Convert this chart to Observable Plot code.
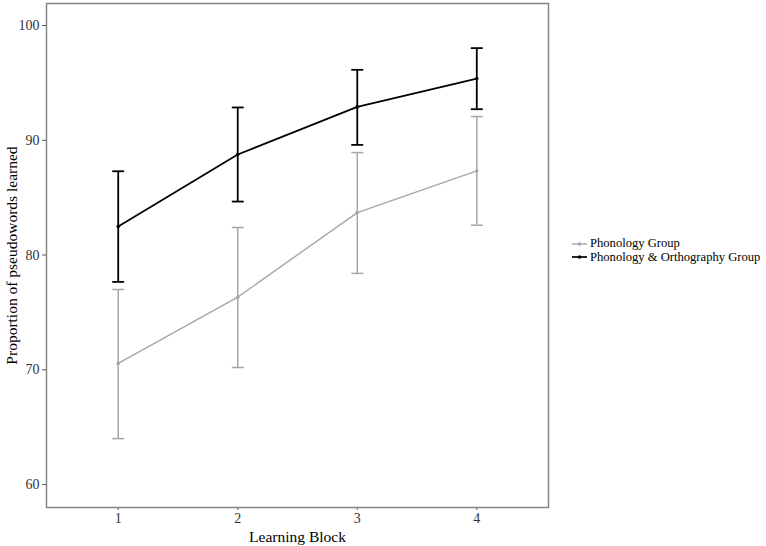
<!DOCTYPE html>
<html>
<head>
<meta charset="utf-8">
<script src="https://cdn.jsdelivr.net/npm/d3@7"></script>
<script src="https://cdn.jsdelivr.net/npm/@observablehq/plot@0.6"></script>
<style>
  body { margin: 0; background: #fff; }
  #wrap { position: relative; width: 766px; height: 546px; font-family: "Liberation Serif", "DejaVu Serif", serif; }
  #legend { position: absolute; left: 571px; top: 237px; font-size: 12.6px; color: #000; }
  #legend .row { display: flex; align-items: center; height: 13.5px; line-height: 13.5px; white-space: nowrap; }
  #legend svg { margin-right: 2px; }
</style>
</head>
<body>
<div id="wrap"></div>
<script>
const blocks = [1, 2, 3, 4];
const groups = ["Phonology Group", "Phonology & Orthography Group"];
const colors = ["#a6a6a6", "#000000"];
const means = [
  [70.55, 76.33, 83.70, 87.33],
  [82.48, 88.76, 92.91, 95.38]
];
const lows = [
  [64.0, 70.2, 78.4, 82.6],
  [77.66, 84.66, 89.6, 92.71]
];
const highs = [
  [77.0, 82.4, 88.93, 92.07],
  [87.3, 92.86, 96.14, 98.03]
];
const yTicks = [60, 70, 80, 90, 100];

const data = [];
groups.forEach((g, gi) => blocks.forEach((b, bi) => data.push({
  group: g, gi, block: b, mean: means[gi][bi], lo: lows[gi][bi], hi: highs[gi][bi]
})));

const capHalf = 0.05;
const marks = [];
groups.forEach((g, gi) => {
  const d = data.filter(r => r.gi === gi);
  const c = colors[gi];
  const sw = gi === 1 ? 1.8 : 1.5;
  marks.push(
    Plot.ruleX(d, {x: "block", y1: "lo", y2: "hi", stroke: c, strokeWidth: sw}),
    Plot.link(d, {x1: r => r.block - capHalf, x2: r => r.block + capHalf, y1: "hi", y2: "hi", stroke: c, strokeWidth: sw}),
    Plot.link(d, {x1: r => r.block - capHalf, x2: r => r.block + capHalf, y1: "lo", y2: "lo", stroke: c, strokeWidth: sw}),
    Plot.line(d, {x: "block", y: "mean", stroke: c, strokeWidth: gi === 1 ? 1.7 : 1.4}),
    Plot.dot(d, {x: "block", y: "mean", fill: c, r: 1.8})
  );
});

const xTitle = "Learning Block";
const yTitle = "Proportion of pseudowords learned";

const chart = Plot.plot({
  width: 766,
  height: 546,
  marginLeft: 46,
  marginRight: 218,
  marginTop: 3,
  marginBottom: 39,
  style: {fontFamily: "'Liberation Serif', 'DejaVu Serif', serif", fontSize: "14px", background: "#fff", color: "#000"},
  x: {domain: [0.4, 4.6], ticks: blocks, tickFormat: d => String(d)},
  y: {domain: [58.0, 101.92], ticks: yTicks},
  marks: [
    Plot.axisX({ticks: blocks, tickSize: 3, tickPadding: 3, tickFormat: d => String(d), fill: "#333333", stroke: "#555",
      label: xTitle, labelAnchor: "center", labelArrow: "none", labelOffset: 34, fontSize: 14}),
    Plot.axisY({ticks: yTicks, tickSize: 4, tickPadding: 3, fill: "#333333", stroke: "#555",
      label: yTitle, labelAnchor: "center", labelArrow: "none", labelOffset: 41, fontSize: 14}),
    ...marks,
    Plot.frame({stroke: "#858585", strokeWidth: 1.5})
  ]
});

// enlarge axis titles
chart.querySelectorAll("text").forEach(t => {
  if (t.textContent === xTitle || t.textContent === yTitle) {
    t.style.fontSize = "15.5px";
    t.setAttribute("fill", "#000");
  }
});

const wrap = document.getElementById("wrap");
wrap.appendChild(chart);

const legend = document.createElement("div");
legend.id = "legend";
groups.forEach((g, gi) => {
  const row = document.createElement("div");
  row.className = "row";
  row.innerHTML = `<svg width="17" height="8"><line x1="1" x2="16" y1="4" y2="4" stroke="${colors[gi]}" stroke-width="${gi === 1 ? 1.7 : 1.4}"/><circle cx="8.5" cy="4" r="1.8" fill="${colors[gi]}"/></svg><span>${g}</span>`;
  legend.appendChild(row);
});
wrap.appendChild(legend);
</script>
</body>
</html>
